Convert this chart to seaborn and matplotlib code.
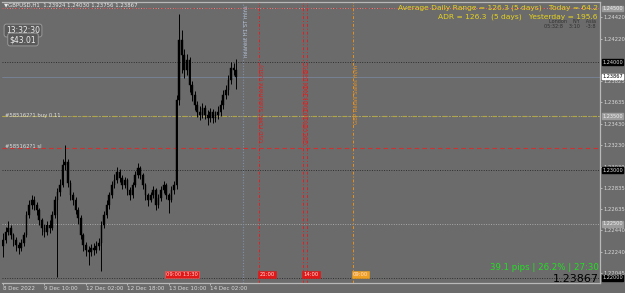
import matplotlib
matplotlib.use("Agg")
import matplotlib.pyplot as plt
import seaborn as sns
import numpy as np
import pandas as pd

# ---------------- data ----------------
closes = [1.22351, 1.22425, 1.22462, 1.22397, 1.22351, 1.22304, 1.22276, 1.22323, 1.22397, 1.22583,
          1.22675, 1.22722, 1.22675, 1.22629, 1.22536, 1.22462, 1.22425, 1.22490, 1.22462, 1.22583,
          1.22722, 1.22796, 1.22861, 1.23047, 1.23074, 1.22880, 1.22768, 1.22722, 1.22629, 1.22555,
          1.22397, 1.22304, 1.22258, 1.22239, 1.22276, 1.22258, 1.22295, 1.22323, 1.22490, 1.22583,
          1.22675, 1.22768, 1.22861, 1.22907, 1.22982, 1.22926, 1.22861, 1.22907, 1.22815, 1.22768,
          1.22861, 1.22954, 1.23019, 1.22954, 1.22861, 1.22768, 1.22722, 1.22768, 1.22815, 1.22675,
          1.22740, 1.22815, 1.22861, 1.22768, 1.22722, 1.22815, 1.22861, 1.23650, 1.24207, 1.24067,
          1.23928, 1.24021, 1.23789, 1.23696, 1.23603, 1.23538, 1.23511, 1.23576, 1.23511, 1.23483,
          1.23538, 1.23483, 1.23511, 1.23538, 1.23603, 1.23696, 1.23743, 1.23835, 1.23947, 1.23924,
          1.23867]
first_open = 1.22300
highs = [1.22420, 1.22470, 1.22530, 1.22490, 1.22420, 1.22380, 1.22330, 1.22360, 1.22430, 1.22620,
         1.22720, 1.22770, 1.22760, 1.22700, 1.22650, 1.22560, 1.22500, 1.22530, 1.22540, 1.22620,
         1.22760, 1.22830, 1.22920, 1.23100, 1.23232, 1.23100, 1.22910, 1.22800, 1.22750, 1.22660,
         1.22580, 1.22420, 1.22330, 1.22300, 1.22310, 1.22320, 1.22340, 1.22370, 1.22530, 1.22620,
         1.22720, 1.22800, 1.22900, 1.22960, 1.23030, 1.23010, 1.22950, 1.22940, 1.22930, 1.22840,
         1.22890, 1.22990, 1.23070, 1.23040, 1.22970, 1.22880, 1.22790, 1.22800, 1.22850, 1.22830,
         1.22780, 1.22850, 1.22900, 1.22880, 1.22790, 1.22850, 1.22900, 1.23700, 1.24448, 1.24300,
         1.24120, 1.24080, 1.24050, 1.23830, 1.23730, 1.23640, 1.23590, 1.23620, 1.23600, 1.23560,
         1.23580, 1.23570, 1.23550, 1.23590, 1.23650, 1.23740, 1.23790, 1.23880, 1.24000, 1.23990,
         1.24030]
lows = [1.22190, 1.22320, 1.22400, 1.22360, 1.22300, 1.22250, 1.22220, 1.22250, 1.22300, 1.22380,
        1.22560, 1.22640, 1.22630, 1.22580, 1.22490, 1.22400, 1.22380, 1.22400, 1.22420, 1.22440,
        1.22560, 1.22010, 1.22760, 1.22840, 1.23000, 1.22840, 1.22720, 1.22680, 1.22590, 1.22500,
        1.22360, 1.22250, 1.22200, 1.22120, 1.22200, 1.22210, 1.22230, 1.22260, 1.22060, 1.22460,
        1.22560, 1.22640, 1.22740, 1.22830, 1.22880, 1.22890, 1.22820, 1.22830, 1.22770, 1.22720,
        1.22740, 1.22840, 1.22930, 1.22920, 1.22820, 1.22720, 1.22670, 1.22700, 1.22740, 1.22630,
        1.22650, 1.22710, 1.22790, 1.22730, 1.22600, 1.22700, 1.22780, 1.22820, 1.23600, 1.23900,
        1.23850, 1.23880, 1.23720, 1.23640, 1.23560, 1.23490, 1.23460, 1.23480, 1.23470, 1.23420,
        1.23450, 1.23440, 1.23450, 1.23470, 1.23500, 1.23570, 1.23660, 1.23700, 1.23800, 1.23880,
        1.23756]

price_ticks = [1.24420, 1.24220, 1.23825, 1.23635, 1.23430, 1.23230, 1.23030, 1.22835,
               1.22635, 1.22440, 1.22240, 1.22045]
time_tick_bars = [0, 16, 32, 48, 64, 80]
time_tick_labels = ["8 Dec 2022", "9 Dec 10:00", "12 Dec 02:00", "12 Dec 18:00",
                    "13 Dec 10:00", "14 Dec 02:00"]
round_black = [1.24000, 1.23000, 1.22000]
round_gray = [1.24500, 1.23500, 1.22500]
bid = 1.23867
buy_level = 1.23500
sl_level = 1.23205
tp_level = 1.24503

event_bars = [99.0, 116.0, 117.5, 135.0]
event_colors = ["#e02020", "#e02020", "#e02020", "#e8901c"]
event_texts = ["USD FOMC Statement (USD)", "GBP Official Bank Rate (GBP)", "", "GBP Retail Sales m/m"]
event_box_text = ["21:00", "14:00", "", "09:00"]
now_bar = 92.7

# ---------------- figure ----------------
sns.set_theme(style="dark")
BG = "#6b6b6b"
W, H = 625, 293
fig = plt.figure(figsize=(W / 100, H / 100), dpi=100, facecolor=BG)
ax = fig.add_axes([2 / W, 10 / H, 598 / W, 281 / H], facecolor=BG)

df = pd.DataFrame({"bar": np.arange(len(closes)), "close": closes, "high": highs, "low": lows})
df["open"] = [first_open] + closes[:-1]

ax.set_xlim(-0.4, 230.5)
ax.set_ylim(1.219524, 1.245591)

# grid / levels
for lv in round_black:
    ax.axhline(lv, color="#2e2e2e", lw=0.7, ls=(0, (1, 1.5)), zorder=1)
for lv in round_gray:
    ax.axhline(lv, color="#a8a8a8", lw=0.7, ls=(0, (1, 1.5)), zorder=1)
ax.axhline(buy_level, color="#b4a83c", lw=0.8, ls=(0, (4, 2, 1, 2)), zorder=2)
ax.axhline(sl_level, color="#d03030", lw=0.8, ls=(0, (4, 3)), zorder=2)
ax.axhline(tp_level, color="#d03030", lw=0.7, ls=(0, (1, 2)), zorder=2)
ax.axhline(bid, color="#7a8ba4", lw=0.5, zorder=2)

# event lines
for b, c, t in zip(event_bars, event_colors, event_texts):
    ax.axvline(b, color=c, lw=0.7, ls=(0, (3, 2, 1, 2)), zorder=2)
    if t:
        ax.text(b + 0.4, 1.2398, t, rotation=90, color=c, fontsize=4, ha="left", va="top", zorder=3)
ax.axvline(now_bar, color="#8090a8", lw=0.8, ls=(0, (1, 1.5)), zorder=2)
ax.text(now_bar + 0.4, 1.2453, "nearest H1 ST mins", rotation=90, color="#b8c4d8",
        fontsize=3.8, ha="left", va="top", zorder=3)

# candles
ax.vlines(df["bar"], df["low"], df["high"], color="black", lw=0.7, zorder=4)
body_lo = np.minimum(df["open"], df["close"])
body_hi = np.maximum(df["open"], df["close"])
ax.bar(df["bar"], body_hi - body_lo, bottom=body_lo, width=0.65, color="black",
       edgecolor="black", linewidth=0.3, zorder=5)

# axes styling
ax.spines["left"].set_visible(False)
for s in ["top", "right", "bottom"]:
    ax.spines[s].set_visible(True)
    ax.spines[s].set_color("#b8b8b8")
    ax.spines[s].set_linewidth(0.9)
ax.grid(False)
ax.yaxis.tick_right()
ax.set_yticks(price_ticks)
ax.set_yticklabels([f"{p:.5f}" for p in price_ticks])
ax.tick_params(axis="y", colors="#d8d8d8", labelsize=3.8, length=1.5, width=0.5, pad=1.0, right=True)
ax.set_xticks(time_tick_bars)
ax.set_xticklabels(time_tick_labels, ha="left")
ax.tick_params(axis="x", colors="#d8d8d8", labelsize=4.1, length=1.5, width=0.5, pad=0.6, bottom=True)

# right-axis boxes
ytr = ax.get_yaxis_transform()
for lv in round_black:
    ax.text(1.0035, lv, f"{lv:.5f}", transform=ytr, fontsize=3.6, color="#e0e0e0",
            va="center", ha="left", bbox=dict(boxstyle="square,pad=0.06", fc="black", ec="black"), zorder=6,
            clip_on=False)
for lv in round_gray:
    ax.text(1.0035, lv, f"{lv:.5f}", transform=ytr, fontsize=3.6, color="#f0f0f0",
            va="center", ha="left", bbox=dict(boxstyle="square,pad=0.06", fc="#9c9c9c", ec="#9c9c9c"),
            zorder=6, clip_on=False)
ax.text(1.0035, bid, f"{bid:.5f}", transform=ytr, fontsize=3.6, color="black",
        va="center", ha="left", bbox=dict(boxstyle="square,pad=0.06", fc="white", ec="white"), zorder=7,
        clip_on=False)

# bottom event boxes
bt = ax.get_xaxis_transform()
ax.text(63.0, 0.02, "09:00 13:30", transform=bt, fontsize=3.8, color="#ffd0d0", ha="left", va="bottom",
        bbox=dict(boxstyle="square,pad=0.2", fc="#e01818", ec="#ff6060", lw=0.4), zorder=6)
for b, c, t in zip(event_bars, event_colors, event_box_text):
    if t:
        fc = "#e01818" if c == "#e02020" else "#f0a020"
        ax.text(b, 0.02, t, transform=bt, fontsize=3.8, color="#ffe0e0", ha="left", va="bottom",
                bbox=dict(boxstyle="square,pad=0.2", fc=fc, ec=fc, lw=0.4), zorder=6)

# ---------------- overlay texts ----------------
def ftxt(x, y, s, **kw):
    fig.text(x / W, 1 - y / H, s, **kw)

ftxt(4, 5, "\u25bcGBPUSD,H1  1.23924 1.24030 1.23756 1.23867", fontsize=3.9, color="#e8e8e8", va="center")
ftxt(23, 30.5, "13:32:30", fontsize=5.5, color="#eeeeee", ha="center", va="center",
     bbox=dict(boxstyle="round,pad=0.25,rounding_size=0.3", fc="#5a5a5a", ec="#a0a0a0", lw=0.6))
ftxt(23, 39.5, "$43.01", fontsize=5.5, color="#eeeeee", ha="center", va="center",
     bbox=dict(boxstyle="round,pad=0.25,rounding_size=0.3", fc="#5a5a5a", ec="#a0a0a0", lw=0.6))
ftxt(5, 116, "#585162?1 buy 0.11", fontsize=3.8, color="#e0e0e0", va="center")
ftxt(5, 146, "#585162?1 sl", fontsize=3.8, color="#e0e0e0", va="center")

yellow = "#e6d21e"
ftxt(598, 8, "Average Daily Range = 126.3 (5 days)   Today = 64.2", fontsize=5.4, color=yellow,
     ha="right", va="center")
ftxt(598, 16.5, "ADR = 126.3  (5 days)   Yesterday = 195.6", fontsize=5.4, color=yellow,
     ha="right", va="center")
ftxt(596, 21.5, "London    NY    Asia", fontsize=3.5, color="#303030", ha="right", va="center")
ftxt(596, 26.5, "05:32:8    3:10    -3:8", fontsize=3.5, color="#303030", ha="right", va="center")

ftxt(599, 267, "39.1 pips | 26.2% | 27:30", fontsize=6.2, color="#22e022", ha="right", va="center")
ftxt(599, 279, "1.23867", fontsize=8, color="black", ha="right", va="center")

fig.savefig("out.png", dpi=100, facecolor=BG)
